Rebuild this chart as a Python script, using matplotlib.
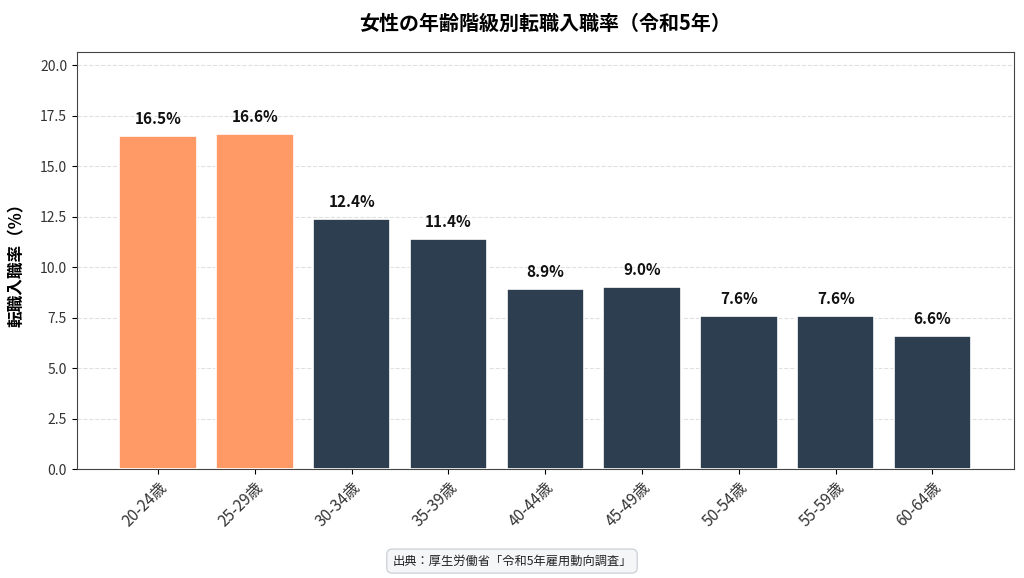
"""Female job-change entry rate by age group (Reiwa 5) -> out.png"""

import matplotlib
matplotlib.use("Agg")
import matplotlib.pyplot as plt

plt.rcParams["font.family"] = ["Noto Sans CJK JP", "DejaVu Sans"]

age_groups = ["20-24歳", "25-29歳", "30-34歳", "35-39歳", "40-44歳",
              "45-49歳", "50-54歳", "55-59歳", "60-64歳"]
rates = [16.5, 16.6, 12.4, 11.4, 8.9, 9.0, 7.6, 7.6, 6.6]
highlight = [True, True, False, False, False, False, False, False, False]

ORANGE = "#FF9966"
NAVY = "#2C3E50"


def main() -> None:
    fig, ax = plt.subplots(figsize=(10.24, 5.78), dpi=100)
    fig.subplots_adjust(left=0.075, right=0.99, top=0.91, bottom=0.188)

    colors = [ORANGE if h else NAVY for h in highlight]
    bars = ax.bar(age_groups, rates, width=0.8, color=colors,
                  edgecolor="white", linewidth=1.2, zorder=3)

    for bar, val in zip(bars, rates):
        ax.text(bar.get_x() + bar.get_width() / 2, val + 0.45, f"{val:.1f}%",
                ha="center", va="bottom", fontsize=11, fontweight="bold",
                color="#111111")

    ax.set_ylim(0, 20.65)
    ax.set_yticks([0, 2.5, 5, 7.5, 10, 12.5, 15, 17.5, 20])
    ax.set_yticklabels([f"{t:.1f}" for t in ax.get_yticks()], fontsize=10,
                       color="#333333")
    ax.set_ylabel("転職入職率（%）", fontsize=12, fontweight="bold", labelpad=10)
    ax.set_title("女性の年齢階級別転職入職率（令和5年）", fontsize=14.4,
                 fontweight="bold", pad=16)

    plt.setp(ax.get_xticklabels(), rotation=45, ha="right",
             rotation_mode="anchor", fontsize=11.2, color="#333333")

    ax.grid(axis="y", linestyle="--", color="#cccccc", alpha=0.6, zorder=0)
    for sp in ax.spines.values():
        sp.set_color("#444444")

    fig.text(0.5, 0.018, "出典：厚生労働省「令和5年雇用動向調査」",
             ha="center", va="bottom", fontsize=8.8, color="#222222",
             bbox=dict(boxstyle="round,pad=0.45", facecolor="#f5f6f8",
                       edgecolor="#cfd4da", linewidth=1))

    fig.savefig("out.png", dpi=100, facecolor="white")
    plt.close(fig)


if __name__ == "__main__":
    main()
